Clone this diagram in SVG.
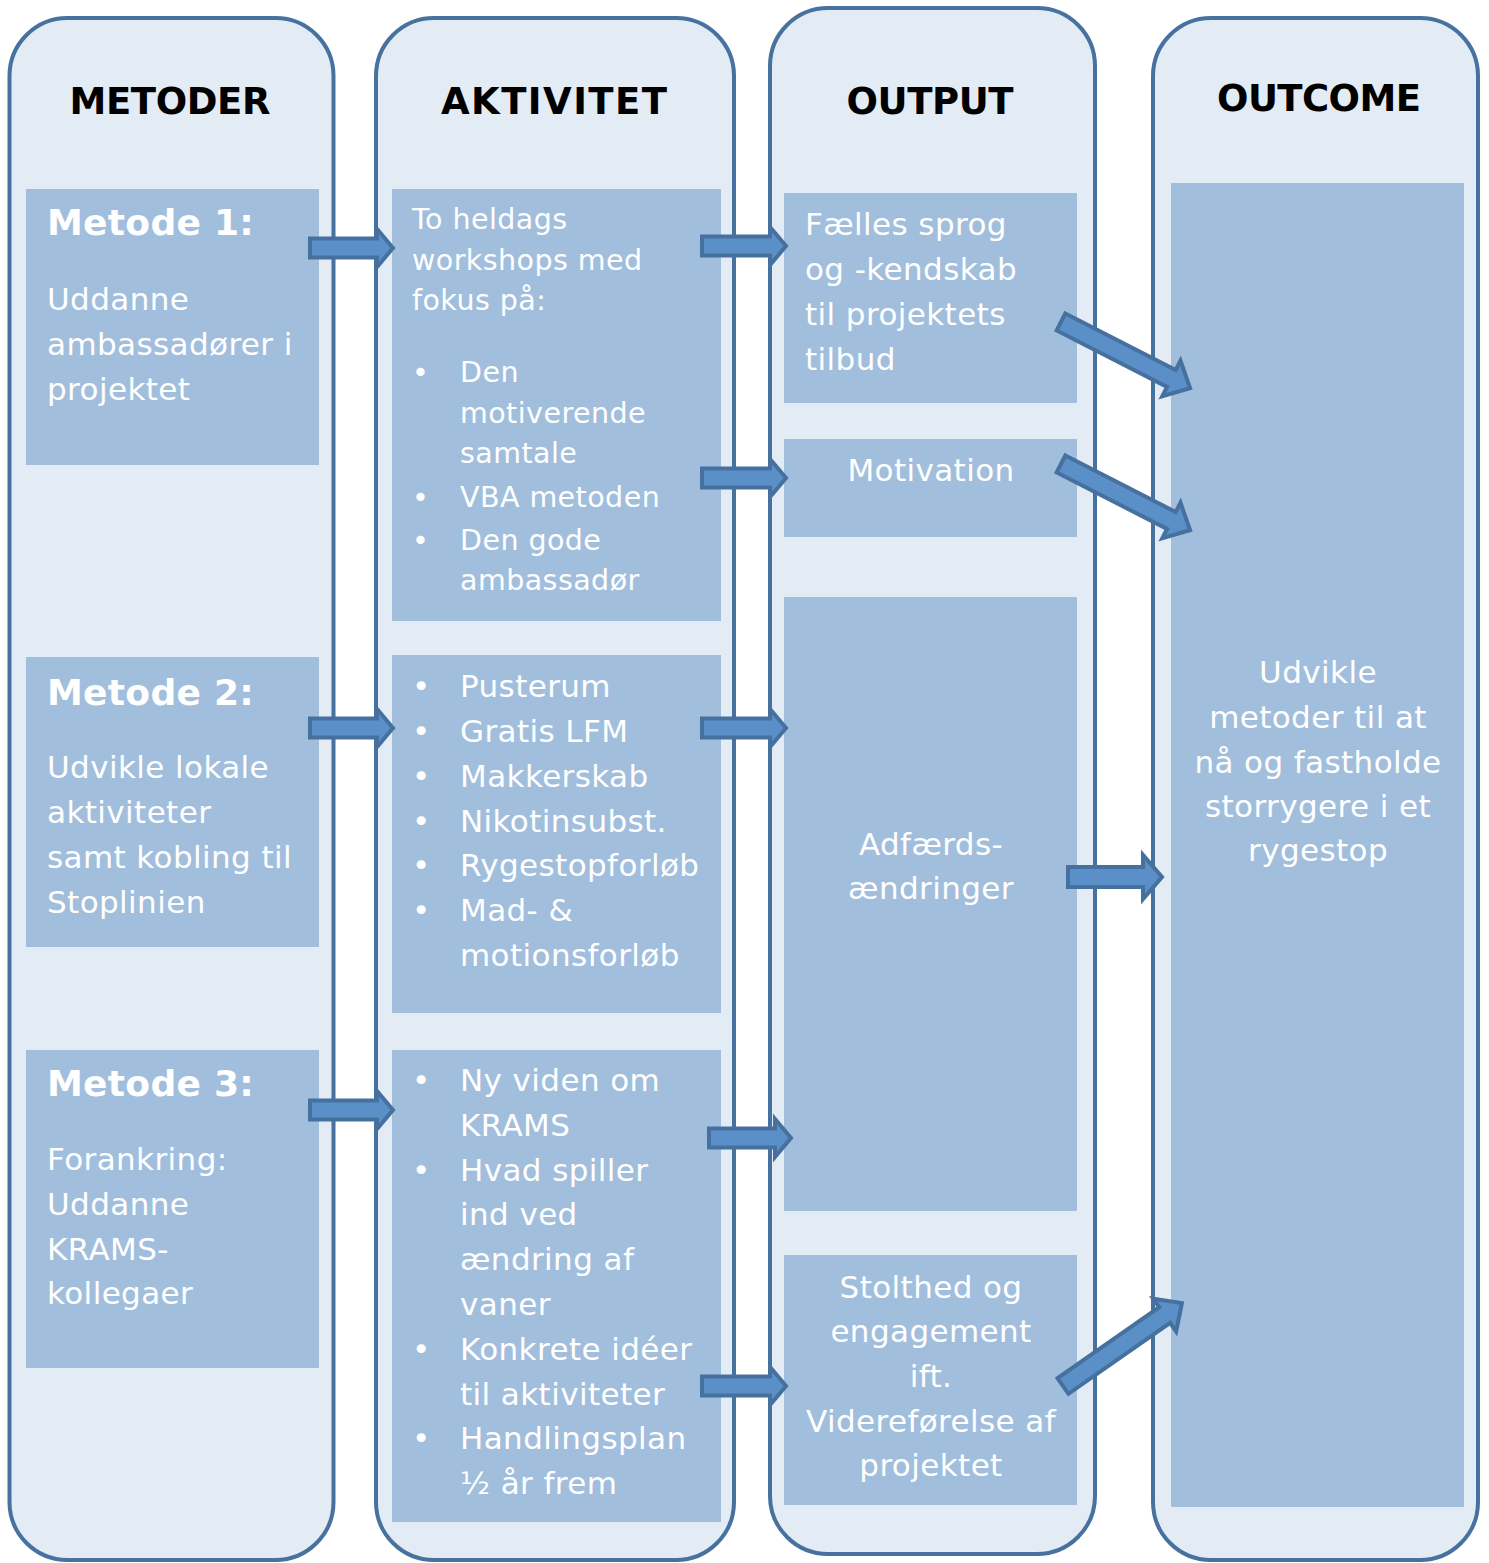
<svg xmlns="http://www.w3.org/2000/svg" width="1489" height="1563" viewBox="0 0 1489 1563">
<style>
.col{fill:#E3EBF5;stroke:#47729F;stroke-width:4}
.box{fill:#A2BEDD}
.arr{fill:#5B8FC7;stroke:#46719F;stroke-width:4;stroke-linejoin:miter}
.title{font-family:"DejaVu Sans",Verdana,sans-serif;font-weight:bold;font-size:37px;fill:#000;text-anchor:middle}
.head{font-family:"DejaVu Sans",Verdana,sans-serif;font-weight:bold;font-size:36px;fill:#fff;letter-spacing:0.3px}
.t{font-family:"DejaVu Sans",Verdana,sans-serif;font-size:31px;fill:#fff;letter-spacing:0.4px}
.s{font-family:"DejaVu Sans",Verdana,sans-serif;font-size:28.5px;fill:#fff;letter-spacing:0.45px}
.c{text-anchor:middle}
</style>
<rect width="1489" height="1563" fill="#fff"/>
<g id="col-metoder">
<rect class="col" x="9.5" y="18" width="324" height="1542" rx="58"/>
<text class="title" x="170" y="114" textLength="201" lengthAdjust="spacing">METODER</text>
</g>
<g id="col-aktivitet">
<rect class="col" x="376" y="18" width="358" height="1542" rx="58"/>
<text class="title" x="554" y="114" textLength="226" lengthAdjust="spacing">AKTIVITET</text>
</g>
<g id="col-output">
<rect class="col" x="770" y="8" width="325" height="1546" rx="58"/>
<text class="title" x="930" y="114" textLength="167" lengthAdjust="spacing">OUTPUT</text>
</g>
<g id="col-outcome">
<rect class="col" x="1153" y="18" width="325" height="1542" rx="58"/>
<text class="title" x="1319" y="111" textLength="204" lengthAdjust="spacing">OUTCOME</text>
</g>
<g id="metode1">
<rect class="box" x="26" y="189" width="293" height="276"/>
<text class="head" x="47" y="235">Metode 1:</text>
<text class="t" x="47" y="310">Uddanne</text>
<text class="t" x="47" y="355">ambassadører i</text>
<text class="t" x="47" y="400">projektet</text>
</g>
<g id="metode2">
<rect class="box" x="26" y="657" width="293" height="290"/>
<text class="head" x="47" y="705">Metode 2:</text>
<text class="t" x="47" y="778">Udvikle lokale</text>
<text class="t" x="47" y="823">aktiviteter</text>
<text class="t" x="47" y="868">samt kobling til</text>
<text class="t" x="47" y="913">Stoplinien</text>
</g>
<g id="metode3">
<rect class="box" x="26" y="1050" width="293" height="318"/>
<text class="head" x="47" y="1096">Metode 3:</text>
<text class="t" x="47" y="1170">Forankring:</text>
<text class="t" x="47" y="1215">Uddanne</text>
<text class="t" x="47" y="1260">KRAMS-</text>
<text class="t" x="47" y="1304">kollegaer</text>
</g>
<g id="aktivitet1">
<rect class="box" x="392" y="189" width="329" height="432"/>
<text class="s" x="412" y="229">To heldags</text>
<text class="s" x="412" y="270">workshops med</text>
<text class="s" x="412" y="310">fokus på:</text>
<text class="s" x="412" y="382">•</text><text class="s" x="460" y="382">Den</text>
<text class="s" x="460" y="423">motiverende</text>
<text class="s" x="460" y="463">samtale</text>
<text class="s" x="412" y="507">•</text><text class="s" x="460" y="507">VBA metoden</text>
<text class="s" x="412" y="550">•</text><text class="s" x="460" y="550">Den gode</text>
<text class="s" x="460" y="590">ambassadør</text>
</g>
<g id="aktivitet2">
<rect class="box" x="392" y="655" width="329" height="358"/>
<text class="t" x="412" y="697">•</text><text class="t" x="460" y="697">Pusterum</text>
<text class="t" x="412" y="742">•</text><text class="t" x="460" y="742">Gratis LFM</text>
<text class="t" x="412" y="787">•</text><text class="t" x="460" y="787">Makkerskab</text>
<text class="t" x="412" y="832">•</text><text class="t" x="460" y="832">Nikotinsubst.</text>
<text class="t" x="412" y="876">•</text><text class="t" x="460" y="876">Rygestopforløb</text>
<text class="t" x="412" y="921">•</text><text class="t" x="460" y="921">Mad- &amp;</text>
<text class="t" x="460" y="966">motionsforløb</text>
</g>
<g id="aktivitet3">
<rect class="box" x="392" y="1050" width="329" height="472"/>
<text class="t" x="412" y="1091">•</text><text class="t" x="460" y="1091">Ny viden om</text>
<text class="t" x="460" y="1136">KRAMS</text>
<text class="t" x="412" y="1181">•</text><text class="t" x="460" y="1181">Hvad spiller</text>
<text class="t" x="460" y="1225">ind ved</text>
<text class="t" x="460" y="1270">ændring af</text>
<text class="t" x="460" y="1315">vaner</text>
<text class="t" x="412" y="1360">•</text><text class="t" x="460" y="1360">Konkrete idéer</text>
<text class="t" x="460" y="1405">til aktiviteter</text>
<text class="t" x="412" y="1449">•</text><text class="t" x="460" y="1449">Handlingsplan</text>
<text class="t" x="460" y="1494">½ år frem</text>
</g>
<g id="output1">
<rect class="box" x="784" y="193" width="293" height="210"/>
<text class="t" x="805" y="235">Fælles sprog</text>
<text class="t" x="805" y="280">og -kendskab</text>
<text class="t" x="805" y="325">til projektets</text>
<text class="t" x="805" y="370">tilbud</text>
</g>
<g id="output2">
<rect class="box" x="784" y="439" width="293" height="98"/>
<text class="t c" x="931" y="481">Motivation</text>
</g>
<g id="output3">
<rect class="box" x="784" y="597" width="293" height="614"/>
<text class="t c" x="931" y="855">Adfærds-</text>
<text class="t c" x="931" y="899">ændringer</text>
</g>
<g id="output4">
<rect class="box" x="784" y="1255" width="293" height="250"/>
<text class="t c" x="931" y="1298">Stolthed og</text>
<text class="t c" x="931" y="1342">engagement</text>
<text class="t c" x="931" y="1387">ift.</text>
<text class="t c" x="931" y="1432">Videreførelse af</text>
<text class="t c" x="931" y="1476">projektet</text>
</g>
<g id="outcome">
<rect class="box" x="1171" y="183" width="293" height="1324"/>
<text class="t c" x="1318" y="683">Udvikle</text>
<text class="t c" x="1318" y="728">metoder til at</text>
<text class="t c" x="1318" y="773">nå og fastholde</text>
<text class="t c" x="1318" y="817">storrygere i et</text>
<text class="t c" x="1318" y="861">rygestop</text>
</g>
<g id="connectors">
<polygon class="arr" points="310,238.5 377,238.5 377,229 393,248 377,267 377,257.5 310,257.5"/>
<polygon class="arr" points="310,718.5 377,718.5 377,709 393,728 377,747 377,737.5 310,737.5"/>
<polygon class="arr" points="310,1100.5 377,1100.5 377,1091 393,1110 377,1129 377,1119.5 310,1119.5"/>
<polygon class="arr" points="702,236.5 770,236.5 770,227 786,246 770,265 770,255.5 702,255.5"/>
<polygon class="arr" points="702,468.5 770,468.5 770,459 786,478 770,497 770,487.5 702,487.5"/>
<polygon class="arr" points="702,718.5 770,718.5 770,709 786,728 770,747 770,737.5 702,737.5"/>
<polygon class="arr" points="709,1128.5 775,1128.5 775,1119 791,1138 775,1157 775,1147.5 709,1147.5"/>
<polygon class="arr" points="702,1376.5 770,1376.5 770,1367 786,1386 770,1405 770,1395.5 702,1395.5"/>
<polygon class="arr" points="1068,867 1143,867 1143,855 1162,877 1143,899 1143,887 1068,887"/>
<polygon class="arr" transform="translate(1061,322) rotate(27.1)" points="0,-9.5 124,-9.5 124,-20 145,0 124,20 124,9.5 0,9.5"/>
<polygon class="arr" transform="translate(1061,464) rotate(27.1)" points="0,-9.5 124,-9.5 124,-20 145,0 124,20 124,9.5 0,9.5"/>
<polygon class="arr" transform="translate(1063,1386) rotate(-34.9)" points="0,-9.5 124,-9.5 124,-20 145,0 124,20 124,9.5 0,9.5"/>
</g>
</svg>
